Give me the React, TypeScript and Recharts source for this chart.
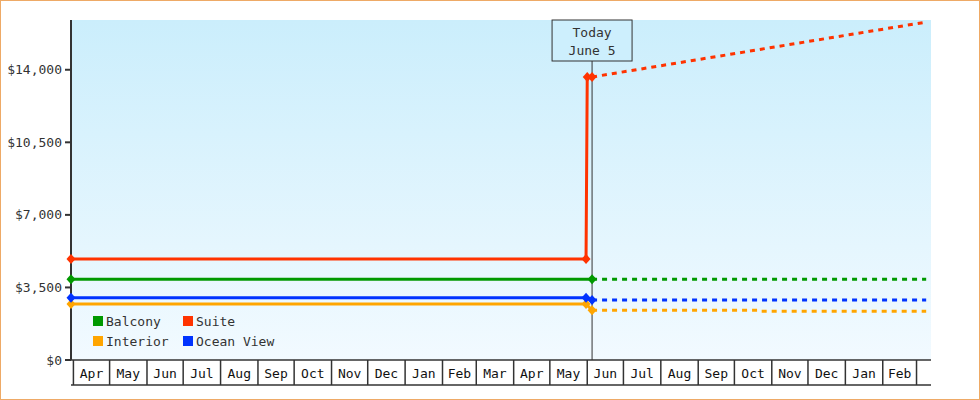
import React from 'react';
import { LineChart, Line, XAxis, YAxis, CartesianGrid, ReferenceLine } from 'recharts';

// fare history + forecast, one solid and one dotted line per cabin type

const FONT = '"DejaVu Sans Mono", monospace';
const INK = '#333333';

const xDomain = ['2021-03-30', '2023-03-13'];
const yMax = 16400;
const yTicks = [0, 3500, 7000, 10500, 14000];

const monthStarts = [
  '2021-04-01', '2021-05-01', '2021-06-01', '2021-07-01', '2021-08-01', '2021-09-01',
  '2021-10-01', '2021-11-01', '2021-12-01', '2022-01-01', '2022-02-01', '2022-03-01',
  '2022-04-01', '2022-05-01', '2022-06-01', '2022-07-01', '2022-08-01', '2022-09-01',
  '2022-10-01', '2022-11-01', '2022-12-01', '2023-01-01', '2023-02-01', '2023-03-01',
];
const monthLabels = [
  'Apr', 'May', 'Jun', 'Jul', 'Aug', 'Sep', 'Oct', 'Nov', 'Dec', 'Jan', 'Feb', 'Mar',
  'Apr', 'May', 'Jun', 'Jul', 'Aug', 'Sep', 'Oct', 'Nov', 'Dec', 'Jan', 'Feb',
];

const todayDate = '2022-06-05';
const todayText = ['Today', 'June 5'];

type Pt = [string, number];

const balconyHistory: Pt[] = [['2021-03-30', 3900], ['2022-06-05', 3900]];
const balconyForecast: Pt[] = [['2022-06-05', 3900], ['2023-03-09', 3900]];

const suiteHistory: Pt[] = [['2021-03-30', 4875], ['2022-05-31', 4875], ['2022-06-01', 13650], ['2022-06-05', 13650]];
const suiteForecast: Pt[] = [['2022-06-05', 13650], ['2023-03-09', 16300]];

const interiorHistory: Pt[] = [['2021-03-30', 2700], ['2022-05-31', 2700], ['2022-06-05', 2400]];
const interiorForecast: Pt[] = [['2022-06-05', 2400], ['2022-10-21', 2400], ['2022-10-22', 2350], ['2023-03-09', 2350]];

const oceanHistory: Pt[] = [['2021-03-30', 3000], ['2022-05-31', 3000], ['2022-06-05', 2900]];
const oceanForecast: Pt[] = [['2022-06-05', 2900], ['2023-03-09', 2900]];

const series = [
  { name: 'Balcony', color: '#009900', history: balconyHistory, forecast: balconyForecast },
  { name: 'Suite', color: '#ff3300', history: suiteHistory, forecast: suiteForecast },
  { name: 'Interior', color: '#ffa500', history: interiorHistory, forecast: interiorForecast },
  { name: 'Ocean View', color: '#0033ff', history: oceanHistory, forecast: oceanForecast },
];
const drawOrder = ['Balcony', 'Interior', 'Ocean View', 'Suite'];

const toPts = (arr: Pt[]) => arr.map(([d, v]) => ({ t: Date.parse(d), v }));
const starts = monthStarts.map((d) => Date.parse(d));
const mids = starts.slice(0, -1).map((s, i) => (s + starts[i + 1]) / 2);

const money = (v: number) => '$' + v.toLocaleString('en-US');

const diamond = (name: string) => (p: any) => {
  const { cx, cy, stroke, index } = p;
  if (cx == null || cy == null) return <g key={`${name}-${index}`} />;
  return (
    <path
      key={`${name}-${index}`}
      d={`M${cx},${cy - 5}L${cx + 4.5},${cy}L${cx},${cy + 5}L${cx - 4.5},${cy}Z`}
      fill={stroke}
    />
  );
};

const MonthLabel = (p: any) => (
  <text
    x={p.x}
    y={p.y - 12}
    textAnchor="middle"
    dominantBaseline="central"
    fontFamily={FONT}
    fontSize={13}
    fill="#111"
  >
    {monthLabels[p.index]}
  </text>
);

const NoLabel = () => <g />;

const TodayLabel = (p: any) => {
  const { x, y } = p.viewBox;
  return (
    <g>
      <rect x={x - 40} y={y} width={80} height={41} fill="#cdeffd" stroke={INK} strokeWidth={1} />
      {todayText.map((s, i) => (
        <text
          key={s}
          x={x}
          y={y + 12 + i * 18}
          textAnchor="middle"
          dominantBaseline="central"
          fontFamily={FONT}
          fontSize={13}
          fill={INK}
        >
          {s}
        </text>
      ))}
    </g>
  );
};

const CruiseLegend = () => (
  <div
    style={{
      position: 'absolute',
      left: 92,
      top: 310,
      display: 'grid',
      gridTemplateColumns: '90px auto',
      gridAutoRows: '20px',
      fontFamily: FONT,
      fontSize: 13,
      color: INK,
    }}
  >
    {series.map((s) => (
      <div key={s.name} style={{ display: 'flex', alignItems: 'center' }}>
        <span style={{ width: 10, height: 10, background: s.color, marginRight: 3 }} />
        <span>{s.name}</span>
      </div>
    ))}
  </div>
);

export default function App() {
  const ordered = drawOrder.map((n) => series.find((s) => s.name === n)!);
  const domain = [Date.parse(xDomain[0]), Date.parse(xDomain[1])];
  return (
    <div
      style={{
        position: 'absolute',
        left: 0,
        top: 0,
        width: 980,
        height: 400,
        boxSizing: 'border-box',
        border: '1px solid #eeaa66',
        background: '#fff',
      }}
    >
      <div style={{ position: 'relative', width: 978, height: 398 }}>
        <LineChart width={978} height={398} margin={{ top: 19, right: 48, bottom: 13, left: 0 }}>
          <defs>
            <linearGradient id="bg" x1="0" y1="0" x2="0" y2="1">
              <stop offset="0%" stopColor="#cbeefc" />
              <stop offset="100%" stopColor="#f2faff" />
            </linearGradient>
          </defs>
          <CartesianGrid xAxisId="axis1" horizontal={false} vertical={false} fill="url(#bg)" fillOpacity={1} />
          <XAxis
            xAxisId="axis1"
            type="number"
            dataKey="t"
            domain={domain}
            ticks={starts}
            interval={0}
            tick={NoLabel}
            tickSize={25}
            height={25}
            axisLine={{ stroke: INK, strokeWidth: 1.5 }}
            tickLine={{ stroke: INK, strokeWidth: 1.5 }}
          />
          <XAxis
            xAxisId="axis2"
            type="number"
            dataKey="t"
            domain={domain}
            allowDataOverflow
            ticks={mids}
            interval={0}
            tick={MonthLabel}
            tickSize={0}
            tickMargin={0}
            tickLine={false}
            height={1}
            axisLine={{ stroke: INK, strokeWidth: 1.5 }}
          />
          <YAxis
            type="number"
            domain={[0, yMax]}
            ticks={yTicks}
            interval={0}
            width={70}
            tickSize={6}
            tickMargin={3}
            tickFormatter={money}
            tick={{ fontFamily: FONT, fontSize: 13, fill: INK }}
            axisLine={{ stroke: INK, strokeWidth: 2 }}
            tickLine={{ stroke: INK, strokeWidth: 2 }}
          />
          {ordered.map((s) => (
            <Line
              key={`${s.name}-f`}
              xAxisId="axis1"
              data={toPts(s.forecast)}
              dataKey="v"
              type="linear"
              stroke={s.color}
              strokeWidth={3}
              strokeDasharray="5 5"
              dot={false}
              activeDot={false}
              isAnimationActive={false}
            />
          ))}
          {ordered.map((s) => (
            <Line
              key={`${s.name}-h`}
              xAxisId="axis1"
              data={toPts(s.history)}
              dataKey="v"
              type="linear"
              stroke={s.color}
              strokeWidth={3}
              dot={diamond(s.name)}
              activeDot={false}
              isAnimationActive={false}
            />
          ))}
          <ReferenceLine
            xAxisId="axis1"
            x={Date.parse(todayDate)}
            stroke={INK}
            strokeWidth={1}
            label={(p: any) => <TodayLabel {...p} />}
          />
        </LineChart>
        <CruiseLegend />
      </div>
    </div>
  );
}
